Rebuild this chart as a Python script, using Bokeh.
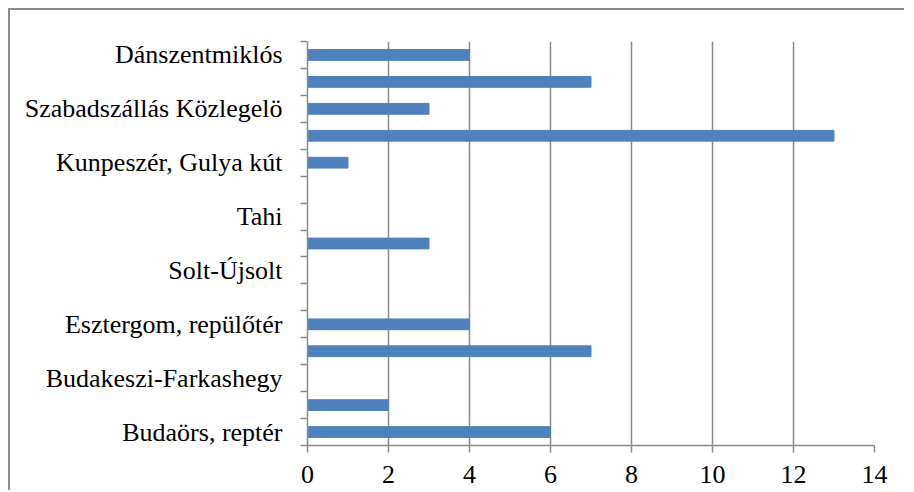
from bokeh.plotting import figure
from bokeh.models import FixedTicker, Range1d, ColumnDataSource
from bokeh.embed import file_html
from bokeh.resources import INLINE

# categories from bottom to top; unnamed (unlabeled) categories are ""
categories = ["Budaörs, reptér", "", "Budakeszi-Farkashegy", "", "Esztergom, repülőtér",
              "", "Solt-Újsolt", "", "Tahi", "", "Kunpeszér, Gulya kút", "",
              "Szabadszállás Közlegelö", "", "Dánszentmiklós"]
values = [6, 2, 0, 7, 4, 0, 0, 3, 0, 0, 1, 13, 3, 7, 4]
x_ticks = [0, 2, 4, 6, 8, 10, 12, 14]

positions = list(range(1, len(categories) + 1))
src = ColumnDataSource(dict(y=positions, v=values))

FONT = "serif"
GRAY = "#8a8a8a"

p = figure(width=896, height=482, output_backend="svg", toolbar_location=None,
           x_range=Range1d(0, 14), y_range=Range1d(0.5, len(categories) + 0.5),
           min_border_left=297, min_border_right=32, min_border_top=31, min_border_bottom=47)
p.margin = (8, 0, 0, 8)
p.styles = {"border-top": "2px solid #8c8c8c", "border-left": "2px solid #8c8c8c"}
p.outline_line_color = None

p.hbar(y="y", right="v", left=0, height=0.4, source=src, color="#4F81BD")

xa = p.xaxis[0]
xa.ticker = FixedTicker(ticks=x_ticks)
xa.axis_line_color = GRAY
xa.axis_line_width = 1.5
xa.major_tick_line_color = GRAY
xa.major_tick_line_width = 1.5
xa.major_tick_out = 7
xa.major_tick_in = 0
xa.minor_tick_line_color = None
xa.major_label_text_font = FONT
xa.major_label_text_font_size = "26px"
xa.major_label_text_color = "black"
xa.major_label_standoff = 13

ya = p.yaxis[0]
ya.ticker = FixedTicker(ticks=positions,
                        minor_ticks=[i + 0.5 for i in range(0, len(categories) + 1)])
ya.major_label_overrides = {pos: name for pos, name in zip(positions, categories)}
ya.axis_line_color = GRAY
ya.axis_line_width = 1.5
ya.major_tick_line_color = None
ya.major_tick_out = 0
ya.major_tick_in = 0
ya.minor_tick_line_color = GRAY
ya.minor_tick_line_width = 1.5
ya.minor_tick_out = 7
ya.minor_tick_in = 0
ya.major_label_text_font = FONT
ya.major_label_text_font_size = "26px"
ya.major_label_text_color = "black"
ya.major_label_standoff = 18

p.xgrid.ticker = FixedTicker(ticks=x_ticks)
p.xgrid.grid_line_color = GRAY
p.xgrid.grid_line_width = 1.5
p.ygrid.grid_line_color = None

open("out.html", "w").write(file_html(p, INLINE))
